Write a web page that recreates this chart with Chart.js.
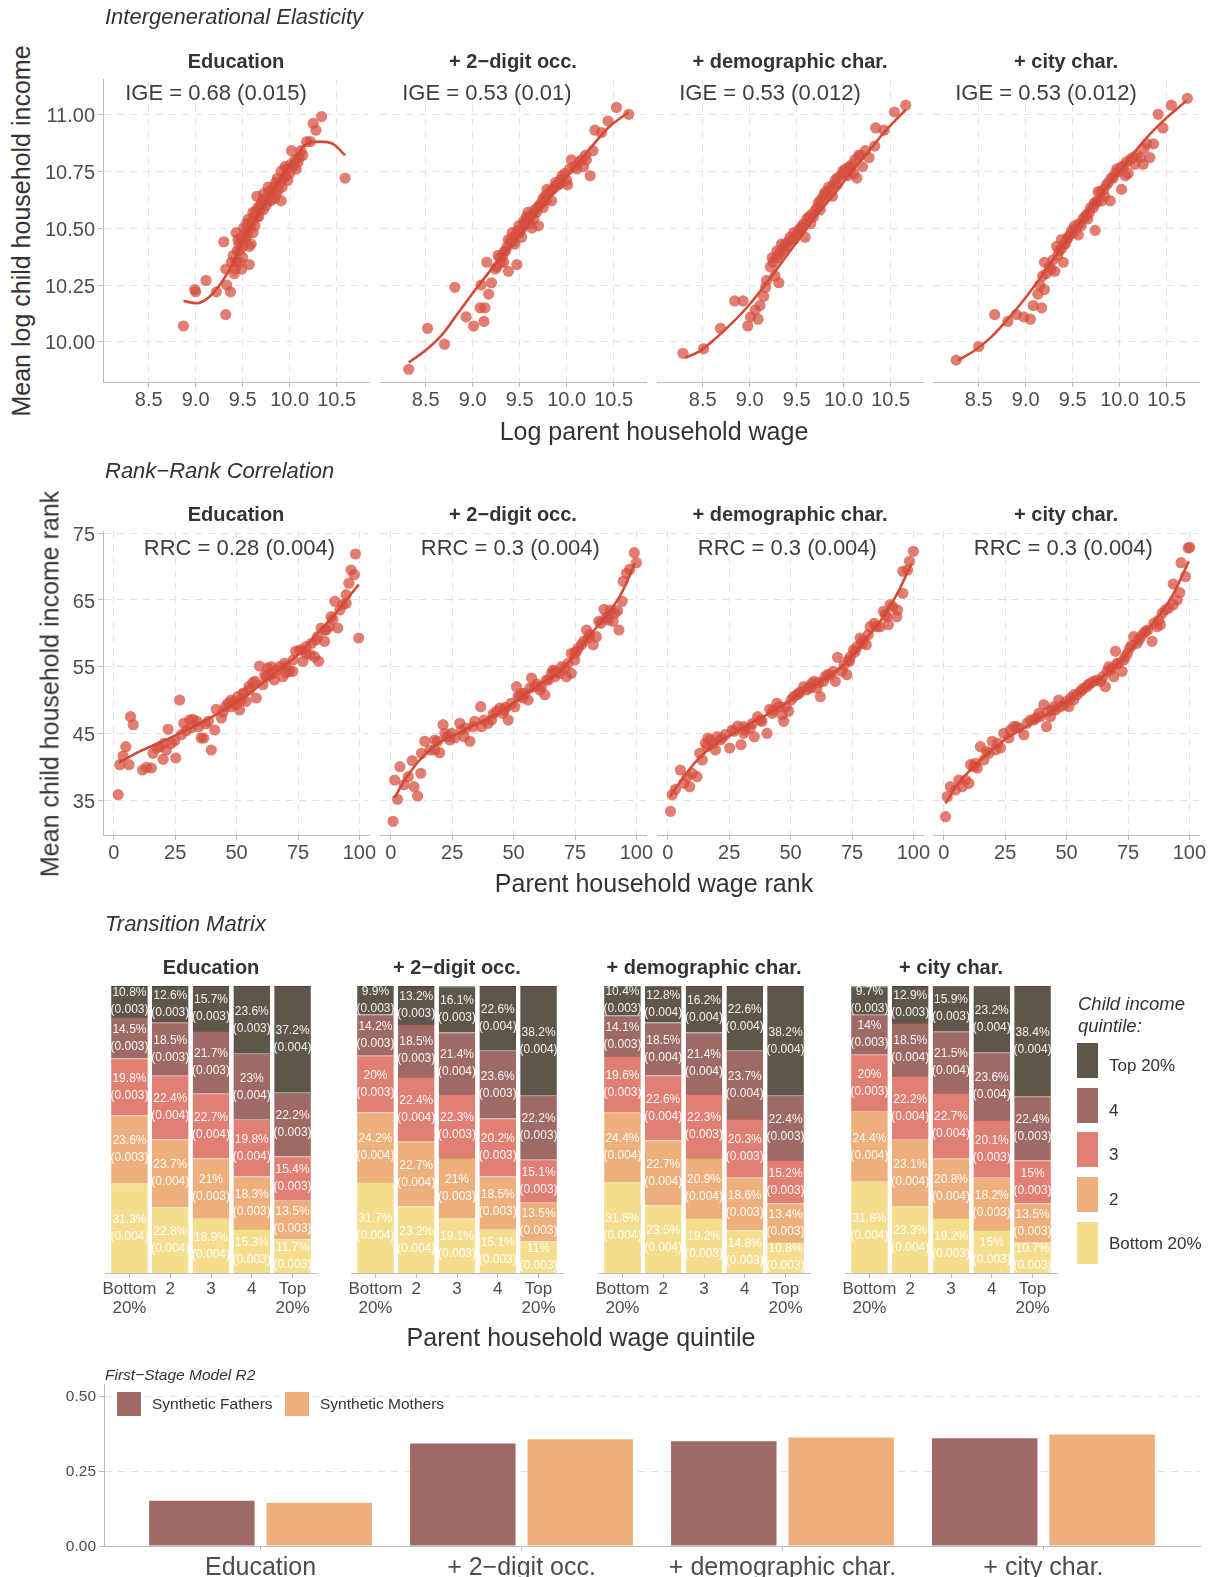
<!DOCTYPE html>
<html>
<head>
<meta charset="utf-8">
<script src="https://cdn.jsdelivr.net/npm/chart.js@4.4.1/dist/chart.umd.min.js"></script>
<style>
  body { margin: 0; background: #fff; }
  #fig { position: relative; width: 1216px; height: 1577px; overflow: hidden; font-family: "Liberation Sans", Arial, sans-serif; }
  .c { position: absolute; }
  .t { position: absolute; white-space: nowrap; color: #333; line-height: 1; }
  .key { position: absolute; }
</style>
</head>
<body>
<div id="fig"></div>
<script>
// ---------- data ----------
const panelNames = ['Education', '+ 2\u2212digit occ.', '+ demographic char.', '+ city char.'];
const igeLabels = ['IGE = 0.68 (0.015)', 'IGE = 0.53 (0.01)', 'IGE = 0.53 (0.012)', 'IGE = 0.53 (0.012)'];
const rrcLabels = ['RRC = 0.28 (0.004)', 'RRC = 0.3 (0.004)', 'RRC = 0.3 (0.004)', 'RRC = 0.3 (0.004)'];
const igeTicksX = [8.5, 9.0, 9.5, 10.0, 10.5];
const igeTicksY = [10.0, 10.25, 10.5, 10.75, 11.0];
const rrcTicksX = [0, 25, 50, 75, 100];
const rrcTicksY = [35, 45, 55, 65, 75];

// log parent wage vs mean log child income, one array per panel
const igePts1 = [[8.87,10.07],[8.99,10.23],[9.0,10.22],[9.11,10.27],[9.22,10.22],[9.30,10.44],[9.32,10.12],[9.33,10.25],[9.37,10.22],[9.32,10.32],[9.38,10.35],[9.43,10.48],[9.42,10.32],[9.47,10.40],[9.45,10.45],[9.50,10.37],[9.49,10.32],[9.57,10.34],[9.54,10.52],[9.56,10.54],[9.59,10.43],[9.61,10.48],[9.63,10.51],[9.65,10.55],[9.65,10.64],[9.66,10.59],[9.70,10.61],[9.72,10.58],[9.75,10.60],[9.77,10.68],[9.81,10.66],[9.84,10.63],[9.86,10.65],[9.91,10.62],[9.92,10.68],[9.91,10.75],[9.96,10.73],[10.0,10.74],[10.02,10.84],[10.04,10.77],[10.07,10.76],[10.10,10.81],[10.14,10.82],[10.18,10.88],[10.22,10.88],[10.25,10.96],[10.28,10.93],[10.34,10.99],[10.59,10.72],
  [9.47,10.35],[9.52,10.45],[9.54,10.49],[9.57,10.42],[9.61,10.57],[9.68,10.58],[9.72,10.65],[9.79,10.64],[9.88,10.67],[9.95,10.77],[9.98,10.71],[10.05,10.78],[9.43,10.35],
  [9.40,10.38],[9.41,10.30],[9.44,10.40],[9.46,10.43],[9.48,10.46],[9.50,10.42],[9.51,10.50],[9.53,10.46],[9.55,10.47],[9.58,10.50],[9.60,10.53],[9.62,10.55],[9.64,10.57],[9.67,10.55],[9.69,10.60],[9.71,10.62],[9.74,10.63],[9.76,10.62],[9.78,10.66],[9.80,10.62],[9.83,10.68],[9.85,10.70],[9.87,10.72],[9.90,10.70],[9.94,10.72],[9.97,10.76],[10.01,10.78],[10.06,10.80],[10.09,10.79],[10.12,10.84]];
const igePts2 = [[8.32,9.88],[8.52,10.06],[8.70,9.99],[8.81,10.24],[8.93,10.11],[9.01,10.07],[9.08,10.15],[9.12,10.09],[9.09,10.25],[9.13,10.15],[9.17,10.21],[9.15,10.35],[9.20,10.26],[9.24,10.32],[9.27,10.38],[9.38,10.31],[9.47,10.34],[9.33,10.35],[9.38,10.45],[9.42,10.48],[9.45,10.43],[9.52,10.46],[9.57,10.55],[9.61,10.52],[9.63,10.50],[9.70,10.51],[9.68,10.57],[9.73,10.61],[9.77,10.64],[9.82,10.66],[9.84,10.62],[9.88,10.70],[9.93,10.71],[9.98,10.74],[10.01,10.69],[10.05,10.80],[10.11,10.76],[10.18,10.77],[10.21,10.80],[10.25,10.73],[10.28,10.84],[10.30,10.93],[10.37,10.92],[10.44,10.97],[10.53,11.03],[10.66,11.0],
  [9.29,10.37],[9.34,10.40],[9.43,10.46],[9.49,10.51],[9.54,10.53],[9.59,10.57],[9.65,10.54],[9.75,10.59],[9.79,10.67],[9.91,10.69],[9.95,10.73],[10.0,10.71],
  [9.26,10.33],[9.30,10.35],[9.32,10.38],[9.35,10.40],[9.37,10.42],[9.40,10.44],[9.43,10.44],[9.46,10.47],[9.48,10.49],[9.50,10.48],[9.53,10.50],[9.55,10.52],[9.58,10.53],[9.60,10.55],[9.63,10.56],[9.66,10.58],[9.69,10.59],[9.71,10.60],[9.75,10.63],[9.78,10.62],[9.80,10.65],[9.85,10.67],[9.87,10.68],[9.90,10.69],[9.95,10.70],[10.03,10.76],[10.08,10.77],[10.13,10.79],[10.16,10.80],[10.20,10.82]];
const igePts3 = [[8.29,9.95],[8.51,9.97],[8.69,10.06],[8.84,10.18],[8.93,10.18],[8.98,10.07],[9.01,10.11],[9.09,10.10],[9.06,10.14],[9.11,10.16],[9.15,10.20],[9.17,10.24],[9.18,10.27],[9.22,10.33],[9.31,10.26],[9.27,10.29],[9.24,10.37],[9.29,10.40],[9.34,10.43],[9.40,10.42],[9.43,10.46],[9.50,10.47],[9.56,10.51],[9.61,10.54],[9.59,10.46],[9.68,10.55],[9.72,10.59],[9.75,10.62],[9.79,10.65],[9.88,10.64],[9.86,10.67],[9.91,10.71],[9.97,10.73],[10.04,10.73],[10.07,10.76],[10.14,10.72],[10.16,10.82],[10.20,10.77],[10.27,10.81],[10.33,10.86],[10.34,10.94],[10.43,10.93],[10.54,11.01],[10.66,11.04],
  [9.31,10.37],[9.36,10.40],[9.47,10.45],[9.54,10.49],[9.65,10.52],[9.75,10.58],[9.82,10.64],[9.93,10.69],[10.0,10.74],[10.06,10.77],[10.11,10.74],
  [9.25,10.35],[9.28,10.37],[9.32,10.39],[9.35,10.41],[9.38,10.43],[9.41,10.44],[9.45,10.45],[9.47,10.48],[9.52,10.49],[9.54,10.50],[9.58,10.52],[9.63,10.55],[9.66,10.56],[9.70,10.58],[9.73,10.61],[9.77,10.63],[9.81,10.66],[9.84,10.68],[9.89,10.69],[9.93,10.72],[9.99,10.75],[10.02,10.76],[10.09,10.78],[10.12,10.80],[10.18,10.82],[10.23,10.84]];
const igePts4 = [[8.26,9.92],[8.50,9.98],[8.67,10.12],[8.81,10.09],[8.90,10.12],[8.98,10.11],[9.05,10.10],[9.08,10.16],[9.13,10.21],[9.17,10.15],[9.15,10.25],[9.20,10.23],[9.18,10.29],[9.20,10.35],[9.27,10.32],[9.31,10.31],[9.33,10.42],[9.40,10.35],[9.36,10.40],[9.42,10.43],[9.49,10.49],[9.56,10.47],[9.59,10.51],[9.63,10.55],[9.68,10.57],[9.74,10.49],[9.72,10.59],[9.77,10.66],[9.81,10.62],[9.90,10.62],[9.88,10.70],[9.91,10.72],[9.97,10.76],[10.02,10.67],[10.04,10.77],[10.09,10.74],[10.14,10.81],[10.22,10.81],[10.25,10.78],[10.29,10.87],[10.32,10.81],[10.36,10.87],[10.46,10.94],[10.41,11.0],[10.55,11.04],[10.72,11.07],
  [9.38,10.45],[9.45,10.46],[9.52,10.51],[9.66,10.54],[9.75,10.61],[9.84,10.64],[9.95,10.74],[10.06,10.73],[10.16,10.78],
  [9.22,10.30],[9.25,10.33],[9.29,10.36],[9.34,10.38],[9.38,10.41],[9.41,10.43],[9.44,10.45],[9.47,10.47],[9.51,10.48],[9.54,10.50],[9.57,10.52],[9.61,10.54],[9.65,10.56],[9.69,10.59],[9.73,10.61],[9.76,10.62],[9.80,10.66],[9.83,10.67],[9.86,10.69],[9.93,10.72],[9.99,10.75],[10.02,10.77],[10.07,10.79],[10.11,10.80],[10.18,10.82],[10.26,10.85]];
const igeFit1 = [[8.87,10.18],[9.01,10.17],[9.15,10.20],[9.29,10.27],[9.40,10.35],[9.50,10.45],[9.61,10.52],[9.75,10.62],[9.89,10.71],[10.04,10.80],[10.18,10.87],[10.32,10.88],[10.46,10.87],[10.59,10.82]];
const igeFit2 = [[8.32,9.91],[8.49,9.96],[8.67,10.03],[8.85,10.13],[9.03,10.23],[9.20,10.32],[9.38,10.41],[9.56,10.50],[9.73,10.59],[9.91,10.68],[10.09,10.77],[10.27,10.86],[10.44,10.94],[10.66,11.01]];
const igeFit3 = [[8.31,9.93],[8.47,9.96],[8.65,10.02],[8.83,10.09],[9.01,10.17],[9.18,10.26],[9.36,10.36],[9.54,10.46],[9.72,10.56],[9.90,10.65],[10.07,10.74],[10.25,10.83],[10.43,10.92],[10.66,11.02]];
const igeFit4 = [[8.28,9.92],[8.45,9.96],[8.63,10.02],[8.81,10.10],[8.99,10.19],[9.17,10.29],[9.34,10.39],[9.52,10.49],[9.70,10.59],[9.88,10.69],[10.06,10.78],[10.23,10.87],[10.41,10.95],[10.71,11.06]];

// parent wage rank vs mean child income rank
const rrcPts1 = [[1.8,35.8],[2.4,40.3],[3.8,41.6],[4.9,43.0],[6.2,40.3],[6.8,47.5],[7.9,46.3],[11.7,39.5],[13.3,39.9],[15.3,39.8],[16.0,42.0],[18.7,43.0],[20.1,41.1],[21.4,42.5],[22.1,45.6],[23.4,43.5],[25.2,41.3],[24.8,43.9],[26.8,50.0],[27.5,44.8],[29.5,45.4],[30.9,47.0],[32.2,47.1],[33.9,46.8],[35.6,44.3],[36.6,44.3],[37.4,46.4],[39.7,42.5],[41.1,45.5],[41.7,48.6],[43.8,47.3],[45.5,49.0],[47.8,50.0],[49.9,49.3],[51.2,48.5],[51.9,50.0],[53.9,49.8],[56.6,52.6],[58.0,50.3],[59.3,55.1],[60.7,52.3],[62.7,54.8],[64.1,55.0],[65.4,53.0],[67.5,55.0],[68.8,53.5],[70.2,54.1],[71.5,54.3],[72.9,54.3],[74.0,57.3],[75.6,57.5],[77.0,55.8],[78.3,58.0],[79.9,56.8],[81.7,56.5],[83.4,55.8],[84.4,60.8],[85.8,58.8],[87.8,61.0],[89.2,62.1],[91.2,60.8],[90.0,64.8],[93.2,64.3],[94.6,65.8],[94.6,64.5],[95.7,67.5],[96.6,69.5],[97.9,68.8],[98.4,71.9],[99.7,59.3],
  [47.8,49.0],[52.6,51.0],[55.3,51.5],[62.1,53.5],[64.8,54.0],[70.2,55.0],[78.3,57.0],[82.4,59.0],[86.4,60.5],
  [44.5,48.2],[46.5,49.5],[49.0,49.8],[50.5,50.5],[53.0,51.0],[55.0,52.0],[57.5,52.8],[61.5,53.8],[63.5,53.8],[66.5,54.5],[69.5,55.5],[73.0,56.0],[76.5,57.5],[80.5,58.5],[83.0,59.5],[86.0,60.5],[88.5,62.5],[92.0,63.5],[28.5,46.5],[31.5,45.8],[34.5,46.0],[38.5,46.8],[20.5,43.5],[17.5,42.8]];
const rrcPts2 = [[0.9,31.8],[2.7,35.1],[1.6,38.0],[3.7,40.0],[5.4,37.3],[7.1,38.5],[8.7,40.9],[9.5,37.0],[10.9,35.6],[12.2,39.0],[12.5,42.0],[13.8,43.8],[15.9,42.5],[17.9,42.5],[19.9,42.1],[21.3,46.3],[22.0,45.0],[24.0,44.0],[26.1,44.3],[28.1,46.5],[29.9,44.5],[32.2,43.8],[34.2,46.8],[36.6,49.0],[36.9,46.0],[39.6,46.5],[41.7,47.9],[44.4,48.8],[45.7,48.0],[47.8,47.0],[50.5,49.0],[51.2,52.0],[51.8,50.5],[53.9,50.3],[55.9,50.0],[57.3,53.3],[58.6,52.0],[60.7,51.5],[62.7,50.8],[64.1,53.0],[66.1,54.5],[66.8,53.5],[68.8,54.0],[70.9,54.8],[71.5,53.5],[73.5,54.0],[73.5,57.0],[75.6,57.3],[77.6,58.3],[79.7,60.5],[81.0,59.8],[82.4,58.3],[83.7,59.5],[84.7,61.8],[86.8,63.6],[88.5,62.5],[90.5,61.8],[91.2,63.0],[92.9,60.5],[92.3,63.4],[94.2,64.8],[94.6,67.8],[96.0,69.0],[97.3,69.6],[99.1,72.1],[100.0,70.6],
  [17.9,44.0],[24.7,45.0],[28.8,45.5],[41.0,47.0],[46.4,48.5],[53.2,51.0],[61.3,52.0],[66.8,54.3],[74.9,56.0],[76.3,57.8],[88.5,62.0],
  [43.0,48.3],[46.6,48.9],[49.1,49.5],[52.5,50.6],[54.6,51.0],[56.6,51.8],[59.5,52.4],[63.4,53.0],[65.4,54.0],[67.4,54.2],[69.5,55.0],[72.2,55.5],[75.0,57.0],[78.5,58.8],[80.3,59.3],[85.5,61.5],[87.5,62.3],[89.5,63.5],[30.5,45.8],[33.5,46.0],[38.0,47.0],[23.0,44.5],[19.0,43.8]];
const rrcPts3 = [[1.1,33.3],[1.8,35.8],[3.1,36.6],[5.1,39.5],[6.5,37.5],[7.9,38.5],[8.9,37.0],[9.9,39.0],[11.9,38.5],[14.0,41.0],[15.3,43.5],[16.3,44.3],[17.3,44.0],[19.4,42.5],[20.1,44.5],[22.1,44.3],[23.4,44.8],[25.2,42.8],[26.2,45.5],[28.5,46.1],[29.8,43.3],[31.6,45.5],[33.6,45.8],[35.2,44.5],[36.6,47.5],[38.3,46.8],[40.4,45.0],[41.5,48.6],[44.4,49.5],[46.5,47.8],[47.2,46.8],[49.2,48.3],[51.2,50.5],[52.6,50.8],[55.3,52.0],[56.6,51.5],[58.7,52.5],[60.7,51.8],[62.1,50.5],[64.1,53.5],[66.1,53.8],[68.2,52.8],[69.1,56.4],[70.9,54.3],[72.9,53.8],[74.0,55.8],[75.6,57.5],[77.0,58.0],[78.3,59.3],[80.8,58.3],[82.4,61.0],[84.0,61.5],[86.4,61.0],[87.8,63.3],[89.8,61.3],[90.5,64.3],[93.2,62.5],[93.5,63.5],[95.7,66.0],[95.7,69.3],[97.6,69.5],[98.4,70.8],[100.0,72.3],
  [16.0,43.0],[21.4,44.0],[30.9,45.0],[37.7,47.0],[43.1,48.5],[53.3,51.0],[58.0,51.8],[63.4,52.8],[74.3,56.5],[79.7,59.0],[89.2,62.5],
  [42.5,48.0],[45.5,49.0],[48.2,49.0],[50.2,50.0],[53.9,51.2],[57.6,52.0],[59.6,52.8],[61.4,52.6],[65.0,53.8],[67.4,54.3],[71.7,55.2],[73.5,56.0],[76.3,57.2],[79.0,58.5],[81.6,59.8],[85.0,61.0],[88.5,62.8],[91.5,64.0],[27.0,45.3],[31.0,46.0],[34.5,46.5],[18.5,43.5],[13.0,42.0]];
const rrcPts4 = [[0.7,32.5],[1.4,35.5],[2.7,37.0],[4.7,36.5],[6.1,38.0],[7.5,37.0],[8.8,38.0],[10.2,37.5],[10.9,40.3],[12.9,40.5],[13.6,39.8],[14.9,43.0],[16.3,41.0],[18.3,42.0],[19.7,43.8],[21.0,42.5],[23.1,42.8],[24.4,45.0],[26.5,44.3],[28.5,46.0],[30.5,45.8],[32.6,44.8],[33.9,46.5],[36.6,47.0],[38.7,48.0],[40.7,49.3],[41.8,46.0],[43.4,47.5],[45.5,48.5],[46.8,50.0],[48.8,49.3],[50.9,49.0],[51.6,50.3],[54.3,50.8],[55.6,51.3],[57.0,51.8],[59.7,52.5],[63.8,52.8],[65.8,52.0],[67.2,55.0],[69.2,53.5],[69.9,57.3],[71.2,55.5],[72.6,54.3],[73.9,56.5],[75.7,57.8],[77.3,59.5],[79.4,59.0],[81.4,60.0],[83.0,60.5],[84.8,58.8],[85.5,61.5],[88.2,61.3],[88.9,63.0],[91.6,63.8],[93.4,64.3],[95.0,65.0],[93.4,67.4],[96.1,66.1],[98.4,68.5],[96.6,70.6],[99.5,72.8],[100.1,72.9],
  [12.2,40.0],[27.1,45.5],[39.3,47.5],[44.8,49.0],[52.9,50.0],[58.3,52.0],[62.4,53.0],[67.8,54.5],[73.3,56.0],[78.7,58.5],[86.8,61.0],
  [42.5,48.3],[44.2,48.5],[47.5,49.0],[50.0,49.8],[53.0,50.8],[56.3,51.5],[58.8,52.3],[61.0,52.8],[64.8,53.5],[66.5,54.3],[68.5,54.8],[70.6,55.5],[74.8,57.0],[76.5,58.2],[80.2,59.5],[82.2,60.3],[87.5,62.0],[90.2,63.5],[29.5,46.0],[35.3,47.0],[37.5,47.3],[22.0,43.5],[17.3,42.3]];
const rrcFit1 = [[2.0,40.6],[10.6,42.3],[18.7,43.6],[26.8,45.0],[35.0,46.5],[41.7,47.8],[48.5,49.3],[55.3,51.0],[62.1,53.0],[68.8,55.0],[75.6,57.0],[82.4,59.8],[89.2,62.5],[94.6,65.0],[99.7,67.3]];
const rrcFit2 = [[1.4,35.3],[7.1,38.8],[13.8,41.8],[20.6,43.8],[27.4,45.0],[34.2,46.3],[41.0,47.5],[47.8,49.0],[54.5,50.8],[61.3,52.5],[68.1,54.0],[74.9,56.8],[81.7,60.0],[88.5,63.0],[93.9,66.0],[99.3,70.5]];
const rrcFit3 = [[0.8,35.5],[6.5,38.5],[13.3,41.5],[20.1,43.6],[26.8,45.0],[33.6,46.5],[40.4,47.8],[47.2,49.3],[53.9,51.0],[60.7,52.5],[67.5,54.0],[74.3,56.3],[81.0,59.3],[87.8,62.5],[93.2,65.8],[99.3,70.5]];
const rrcFit4 = [[0.7,34.5],[5.4,37.3],[12.2,40.0],[19.0,42.3],[25.8,44.3],[32.6,45.8],[39.3,47.3],[46.1,48.8],[52.9,50.5],[59.7,52.3],[66.5,54.0],[73.3,56.3],[80.1,59.3],[86.8,62.3],[93.6,66.0],[99.7,70.8]];

// transition matrix: rows = child quintile (bottom..top), columns = parent quintile
const parentQuintiles = [['Bottom', '20%'], '2', '3', '4', ['Top', '20%']];
const childQuintiles = ['Bottom 20%', '2', '3', '4', 'Top 20%'];
const shareEdu = [[31.3, 22.8, 18.9, 15.3, 11.7], [23.6, 23.7, 21, 18.3, 13.5], [19.8, 22.4, 22.7, 19.8, 15.4], [14.5, 18.5, 21.7, 23, 22.2], [10.8, 12.6, 15.7, 23.6, 37.2]];
const seEdu = [[0.004, 0.004, 0.004, 0.003, 0.003], [0.003, 0.004, 0.003, 0.003, 0.003], [0.003, 0.004, 0.004, 0.004, 0.003], [0.003, 0.003, 0.003, 0.004, 0.003], [0.003, 0.003, 0.003, 0.003, 0.004]];
const shareOcc = [[31.7, 23.2, 19.1, 15.1, 11], [24.2, 22.7, 21, 18.5, 13.5], [20, 22.4, 22.3, 20.2, 15.1], [14.2, 18.5, 21.4, 23.6, 22.2], [9.9, 13.2, 16.1, 22.6, 38.2]];
const seOcc = [[0.004, 0.004, 0.003, 0.003, 0.003], [0.004, 0.004, 0.003, 0.003, 0.003], [0.003, 0.004, 0.003, 0.003, 0.003], [0.003, 0.003, 0.004, 0.003, 0.003], [0.003, 0.003, 0.003, 0.004, 0.004]];
const shareDem = [[31.6, 23.5, 19.2, 14.8, 10.8], [24.4, 22.7, 20.9, 18.6, 13.4], [19.6, 22.6, 22.3, 20.3, 15.2], [14.1, 18.5, 21.4, 23.7, 22.4], [10.4, 12.8, 16.2, 22.6, 38.2]];
const seDem = [[0.004, 0.004, 0.003, 0.003, 0.003], [0.004, 0.004, 0.004, 0.003, 0.003], [0.003, 0.004, 0.003, 0.003, 0.003], [0.003, 0.004, 0.004, 0.004, 0.003], [0.003, 0.004, 0.004, 0.004, 0.004]];
const shareCity = [[31.8, 23.3, 19.2, 15, 10.7], [24.4, 23.1, 20.8, 18.2, 13.5], [20, 22.2, 22.7, 20.1, 15], [14, 18.5, 21.5, 23.6, 22.4], [9.7, 12.9, 15.9, 23.2, 38.4]];
const seCity = [[0.004, 0.004, 0.003, 0.003, 0.003], [0.004, 0.004, 0.004, 0.003, 0.003], [0.003, 0.004, 0.004, 0.003, 0.003], [0.003, 0.004, 0.004, 0.004, 0.003], [0.003, 0.003, 0.003, 0.004, 0.004]];

// first-stage R2
const r2Series = ['Synthetic Fathers', 'Synthetic Mothers'];
const r2Fathers = [0.151, 0.342, 0.349, 0.359];
const r2Mothers = [0.144, 0.356, 0.362, 0.372];
const r2TicksY = [0, 0.25, 0.5];

// ---------- style ----------
const FONT = '"Liberation Sans", Arial, sans-serif';
const INK = '#333333';
const TICK_INK = '#4d4d4d';
const GRID = '#e3e3e3';
const AXIS = '#bdbdbd';
const DOT = 'rgba(214,80,64,0.74)';
const LINE = '#d24a38';
const QCOL = ['#f5de8e', '#edb07c', '#e07f73', '#9e6a65', '#5e5648'];
const QEDGE = ['#e6c56c', '#dc9660', '#c9645a', '#84504c', '#4a4337'];

Chart.defaults.font.family = FONT;
Chart.defaults.color = TICK_INK;

const fig = document.getElementById('fig');

function addText(txt, x, y, css, anchor) {
  const d = document.createElement('div');
  d.className = 't';
  d.textContent = txt;
  d.style.cssText += css || '';
  d.style.left = x + 'px';
  d.style.top = y + 'px';
  d.style.transform = anchor || 'translate(-50%, -50%)';
  fig.appendChild(d);
  return d;
}

function addCanvas(left, top, w, h) {
  const c = document.createElement('canvas');
  c.className = 'c';
  c.width = w; c.height = h;
  c.style.left = left + 'px';
  c.style.top = top + 'px';
  c.style.width = w + 'px';
  c.style.height = h + 'px';
  fig.appendChild(c);
  return c;
}

// ---------- scatter facets ----------
function scatterPanel(i, cfg) {
  const PL = 60, PT = 20, PR = 20, XH = 40;
  const left = cfg.lefts[i], top = cfg.top, w = cfg.w, h = cfg.h;
  const cv = addCanvas(left - PL, top - PT, PL + w + PR, PT + h + XH);
  const first = i === 0;
  new Chart(cv, {
    data: {
      datasets: [
        {
          type: 'line',
          data: cfg.fits[i].map(p => ({ x: p[0], y: p[1] })),
          borderColor: LINE, borderWidth: 2.6, pointRadius: 0,
          cubicInterpolationMode: 'monotone', fill: false
        },
        {
          type: 'scatter',
          data: cfg.points[i].map(p => ({ x: p[0], y: p[1] })),
          pointRadius: 5.6, backgroundColor: DOT, borderWidth: 0
        }
      ]
    },
    options: {
      responsive: false, animation: false, devicePixelRatio: 1,
      layout: { padding: { left: 0, top: PT, right: PR, bottom: 0 } },
      plugins: { legend: { display: false }, tooltip: { enabled: false } },
      scales: {
        x: {
          type: 'linear', min: cfg.xRange[0], max: cfg.xRange[1],
          afterBuildTicks: s => { s.ticks = cfg.xTicks.map(v => ({ value: v })); },
          afterFit: s => { s.height = XH; },
          ticks: { callback: cfg.xFmt, font: { size: 20 }, color: TICK_INK, padding: 1, maxRotation: 0, autoSkip: false },
          grid: { color: GRID, lineWidth: 1, tickColor: AXIS, tickLength: 5, tickWidth: 1 },
          border: { color: AXIS, width: 1, dash: [7, 6] }
        },
        y: {
          type: 'linear', min: cfg.yRange[0], max: cfg.yRange[1],
          afterBuildTicks: s => { s.ticks = cfg.yTicks.map(v => ({ value: v })); },
          afterFit: s => { s.width = PL; },
          ticks: { display: first, callback: cfg.yFmt, font: { size: 20 }, color: TICK_INK, padding: 3, labelOffset: 2, autoSkip: false },
          grid: { color: GRID, lineWidth: 1, drawTicks: first, tickColor: AXIS, tickLength: 5, tickWidth: 1 },
          border: { display: first, color: AXIS, width: 1, dash: [7, 6] }
        }
      }
    },
    plugins: [{
      id: 'facetLabel',
      afterDatasetsDraw(chart) {
        const ctx = chart.ctx;
        ctx.save();
        ctx.font = '22px ' + FONT;
        ctx.fillStyle = '#3d3d3d';
        ctx.textAlign = 'left';
        ctx.textBaseline = 'middle';
        ctx.fillText(cfg.labels[i], chart.scales.x.getPixelForValue(cfg.labelAt[0]), chart.scales.y.getPixelForValue(cfg.labelAt[1]));
        ctx.restore();
      }
    }]
  });
  addText(panelNames[i], left + w / 2, cfg.stripY, 'font-size:20px;font-weight:bold;color:' + INK + ';');
}

const lefts = [103, 380, 657, 933];
const igeCfg = {
  lefts, top: 79, w: 266, h: 303, stripY: 60.5,
  xRange: [8.014, 10.844], yRange: [9.824, 11.155],
  xTicks: igeTicksX, yTicks: igeTicksY,
  xFmt: v => v.toFixed(1), yFmt: v => v.toFixed(2),
  points: [igePts1, igePts2, igePts3, igePts4],
  fits: [igeFit1, igeFit2, igeFit3, igeFit4],
  labels: igeLabels, labelAt: [8.25, 11.09]
};
const rrcCfg = {
  lefts, top: 531, w: 266, h: 304, stripY: 514,
  xRange: [-4.4, 103.9], yRange: [29.75, 75.35],
  xTicks: rrcTicksX, yTicks: rrcTicksY,
  xFmt: v => String(v), yFmt: v => String(v),
  points: [rrcPts1, rrcPts2, rrcPts3, rrcPts4],
  fits: [rrcFit1, rrcFit2, rrcFit3, rrcFit4],
  labels: rrcLabels, labelAt: [12.2, 72.6]
};
for (let i = 0; i < 4; i++) { scatterPanel(i, igeCfg); scatterPanel(i, rrcCfg); }

addText('Intergenerational Elasticity', 105, 16.5, 'font-size:22px;font-style:italic;color:' + INK + ';', 'translate(0, -50%)');
addText('Mean log child household income', 21, 231, 'font-size:25px;color:' + INK + ';', 'translate(-50%, -50%) rotate(-90deg)');
addText('Log parent household wage', 654, 430.5, 'font-size:25px;color:' + INK + ';');
addText('Rank\u2212Rank Correlation', 105, 471, 'font-size:22px;font-style:italic;color:' + INK + ';', 'translate(0, -50%)');
addText('Mean child household income rank', 50, 684, 'font-size:25px;color:' + INK + ';', 'translate(-50%, -50%) rotate(-90deg)');
addText('Parent household wage rank', 654, 883, 'font-size:25px;color:' + INK + ';');

// ---------- transition matrix facets ----------
const shares = [shareEdu, shareOcc, shareDem, shareCity];
const ses = [seEdu, seOcc, seDem, seCity];

function matrixPanel(i) {
  const PL = 25, PT = 10, PR = 25, XH = 50;
  const mLefts = [105, 351, 598, 845];
  const left = mLefts[i], top = 986, w = 212, h = 287;
  const cv = addCanvas(left - PL, top - PT, PL + w + PR, PT + h + XH);
  new Chart(cv, {
    type: 'bar',
    data: {
      datasets: childQuintiles.map((name, k) => ({
        label: name,
        data: shares[i][k].map((v, q) => ({ x: q + 1, y: v })),
        backgroundColor: QCOL[k],
        borderColor: QEDGE[k],
        borderWidth: { top: 1, bottom: 0, left: 0, right: 0 },
        borderSkipped: false,
        barPercentage: 0.9, categoryPercentage: 1
      }))
    },
    options: {
      responsive: false, animation: false, devicePixelRatio: 1,
      layout: { padding: { left: PL, top: PT, right: PR, bottom: 0 } },
      plugins: { legend: { display: false }, tooltip: { enabled: false } },
      scales: {
        x: {
          type: 'linear', min: 0.4, max: 5.6, stacked: true, offset: false,
          afterBuildTicks: s => { s.ticks = [1, 2, 3, 4, 5].map(v => ({ value: v })); },
          afterFit: s => { s.height = XH; },
          ticks: { callback: v => parentQuintiles[v - 1], font: { size: 17, lineHeight: 1.12 }, color: TICK_INK, padding: 2, maxRotation: 0, autoSkip: false },
          grid: { offset: false, drawOnChartArea: false, tickColor: AXIS, tickLength: 5, tickWidth: 1 },
          border: { color: AXIS, width: 1 }
        },
        y: { display: false, stacked: true, min: 0, max: 100 }
      }
    },
    plugins: [{
      id: 'cellLabels',
      afterDatasetsDraw(chart) {
        const ctx = chart.ctx;
        ctx.save();
        ctx.font = '12px ' + FONT;
        ctx.fillStyle = 'rgba(255,255,255,0.93)';
        ctx.textAlign = 'center';
        ctx.textBaseline = 'middle';
        chart.data.datasets.forEach((ds, k) => {
          chart.getDatasetMeta(k).data.forEach((el, q) => {
            const cy = (el.y + el.base) / 2;
            ctx.fillText(shares[i][k][q] + '%', el.x, cy - 8.5);
            ctx.fillText('(' + ses[i][k][q] + ')', el.x, cy + 8.5);
          });
        });
        ctx.restore();
      }
    }]
  });
  addText(panelNames[i], left + w / 2, 967, 'font-size:20px;font-weight:bold;color:' + INK + ';');
}
for (let i = 0; i < 4; i++) matrixPanel(i);

addText('Transition Matrix', 105, 923.5, 'font-size:22px;font-style:italic;color:' + INK + ';', 'translate(0, -50%)');
addText('Parent household wage quintile', 581, 1337, 'font-size:25px;color:' + INK + ';');

// legend for child quintiles
addText('Child income', 1078, 1004, 'font-size:18.5px;font-style:italic;color:' + INK + ';', 'translate(0, -50%)');
addText('quintile:', 1078, 1026, 'font-size:18.5px;font-style:italic;color:' + INK + ';', 'translate(0, -50%)');
const keyTops = [1222, 1177, 1132, 1088, 1043];
const keyHeights = [42, 35, 35, 35, 35];
const keyTextY = [1243, 1199, 1154, 1110, 1065];
childQuintiles.forEach((name, k) => {
  const d = document.createElement('div');
  d.className = 'key';
  d.style.cssText = `left:1077px;top:${keyTops[k]}px;width:21px;height:${keyHeights[k]}px;background:${QCOL[k]};`;
  fig.appendChild(d);
  addText(name, 1109, keyTextY[k], 'font-size:17px;color:' + INK + ';', 'translate(0, -50%)');
});

// ---------- first-stage R2 ----------
(function () {
  const PL = 60, PT = 15, PR = 16, XH = 31;
  const left = 104, top = 1384, w = 1096, h = 162;
  const cv = addCanvas(left - PL, top - PT, PL + w + PR, PT + h + XH);
  new Chart(cv, {
    type: 'bar',
    data: {
      datasets: [
        { label: r2Series[0], data: r2Fathers.map((v, j) => ({ x: j, y: v })), backgroundColor: QCOL[3], borderWidth: 0, categoryPercentage: 0.9, barPercentage: 0.898 },
        { label: r2Series[1], data: r2Mothers.map((v, j) => ({ x: j, y: v })), backgroundColor: QCOL[1], borderWidth: 0, categoryPercentage: 0.9, barPercentage: 0.898 }
      ]
    },
    options: {
      responsive: false, animation: false, devicePixelRatio: 1,
      layout: { padding: { left: 0, top: PT, right: PR, bottom: 0 } },
      plugins: { legend: { display: false }, tooltip: { enabled: false } },
      scales: {
        x: {
          type: 'linear', min: -0.6, max: 3.6, offset: false,
          afterBuildTicks: s => { s.ticks = [0, 1, 2, 3].map(v => ({ value: v })); },
          afterFit: s => { s.height = XH; },
          ticks: { callback: v => panelNames[v], font: { size: 25 }, color: TICK_INK, padding: 2, maxRotation: 0, autoSkip: false },
          grid: { offset: false, drawOnChartArea: false, tickColor: AXIS, tickLength: 5, tickWidth: 1 },
          border: { color: AXIS, width: 1 }
        },
        y: {
          min: 0, max: 0.54,
          afterBuildTicks: s => { s.ticks = r2TicksY.map(v => ({ value: v })); },
          afterFit: s => { s.width = PL; },
          ticks: { callback: v => v.toFixed(2), font: { size: 15.5 }, color: TICK_INK, padding: 3, labelOffset: 1, autoSkip: false },
          grid: { color: GRID, tickColor: AXIS, tickLength: 5, tickWidth: 1 },
          border: { color: AXIS, width: 1, dash: [7, 6] }
        }
      }
    }
  });
})();
addText('First\u2212Stage Model R2', 105, 1375, 'font-size:15.5px;font-style:italic;color:' + INK + ';', 'translate(0, -50%)');
[[117, 152], [285, 320]].forEach((pos, k) => {
  const d = document.createElement('div');
  d.className = 'key';
  d.style.cssText = `left:${pos[0]}px;top:1392px;width:24px;height:24px;background:${k === 0 ? QCOL[3] : QCOL[1]};`;
  fig.appendChild(d);
  addText(r2Series[k], pos[1], 1404, 'font-size:15.5px;color:' + INK + ';', 'translate(0, -50%)');
});
</script>
</body>
</html>
